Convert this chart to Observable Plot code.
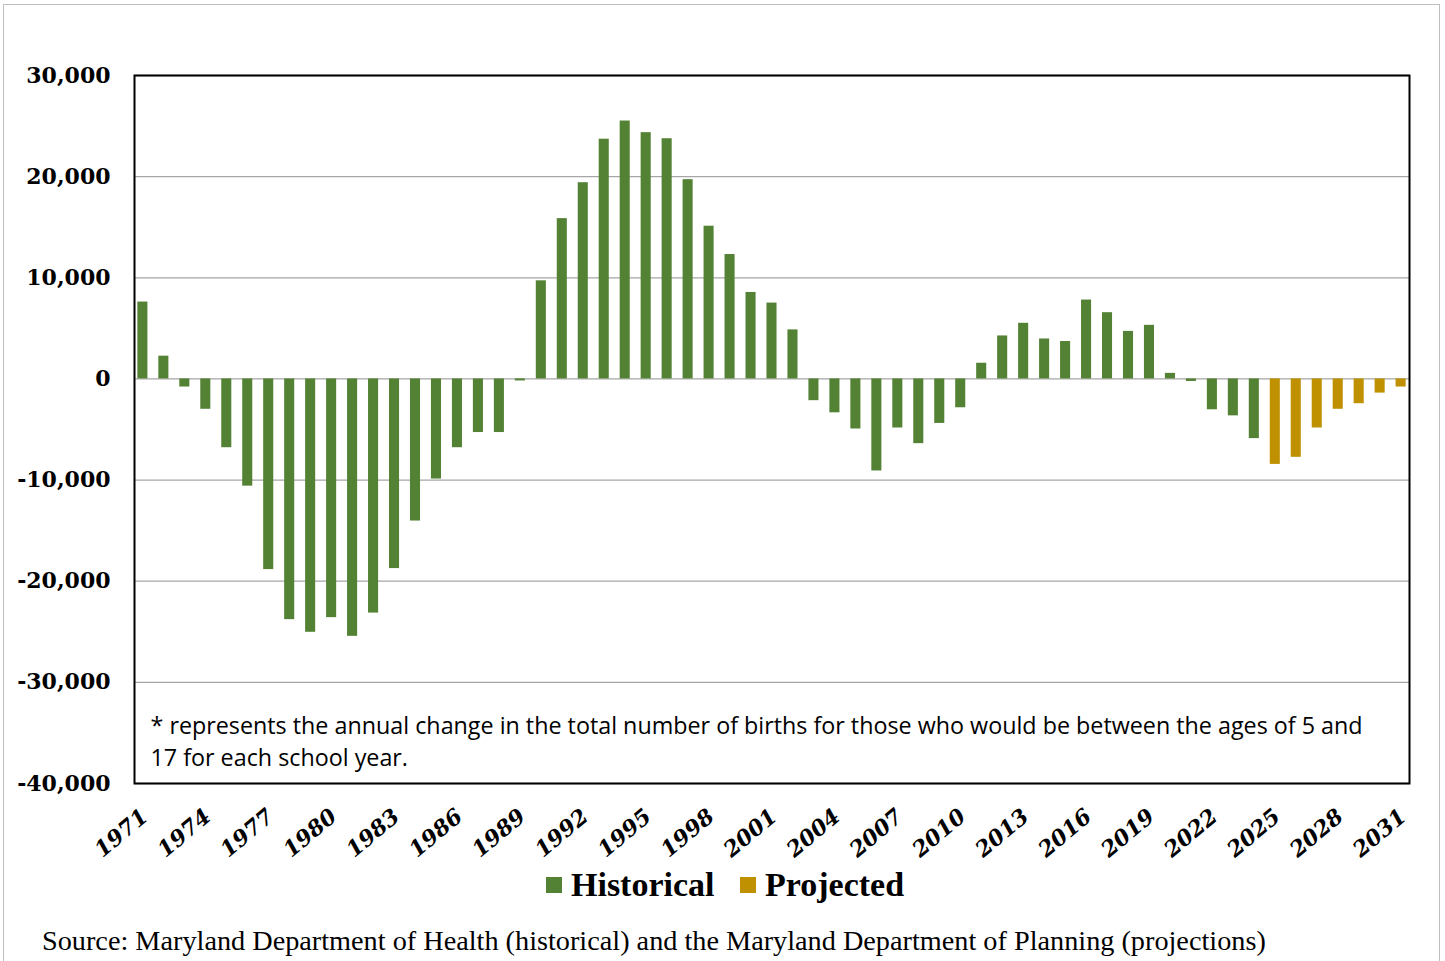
<!DOCTYPE html>
<html><head><meta charset="utf-8">
<script src="https://cdn.jsdelivr.net/npm/d3@7"></script>
<script src="https://cdn.jsdelivr.net/npm/@observablehq/plot@0.6"></script>
<style>
body{margin:0;background:#fff;}
#wrap{position:relative;width:1445px;height:961px;overflow:hidden;background:#fff;}
#border{position:absolute;left:3px;top:4px;width:1437px;height:1000px;border:1.5px solid #bfbfbf;box-sizing:border-box;}
#chart{position:absolute;left:0;top:0;}
.leg{position:absolute;top:868px;display:flex;align-items:center;font-family:"Liberation Serif",serif;font-weight:bold;font-size:34px;line-height:1;color:#000;}
.sw{display:inline-block;width:16px;height:16px;margin-right:9px;}
#source{position:absolute;left:42px;top:927px;font-family:"Liberation Serif",serif;font-size:28.25px;line-height:1;color:#000;white-space:nowrap;}
</style></head>
<body>
<div id="wrap">
  <div id="border"></div>
  <div id="chart"></div>
  <div class="leg" style="left:546px"><span class="sw" style="background:#548235"></span>Historical</div>
  <div class="leg" style="left:740px"><span class="sw" style="background:#BF9000"></span>Projected</div>
  <div id="source">Source: Maryland Department of Health (historical) and the Maryland Department of Planning (projections)</div>
</div>
<script>
const years = [1971,1972,1973,1974,1975,1976,1977,1978,1979,1980,1981,1982,1983,1984,1985,1986,1987,1988,1989,1990,
  1991,1992,1993,1994,1995,1996,1997,1998,1999,2000,2001,2002,2003,2004,2005,2006,2007,2008,2009,2010,
  2011,2012,2013,2014,2015,2016,2017,2018,2019,2020,2021,2022,2023,2024,2025,2026,2027,2028,2029,2030,2031];
const changes = [7600,2250,-800,-3000,-6800,-10600,-18850,-23800,-25050,-23600,-25450,-23150,-18750,-14050,-9900,-6800,-5300,-5300,-200,9700,
  15850,19400,23700,25500,24350,23750,19700,15100,12300,8550,7500,4850,-2150,-3350,-4950,-9100,-4850,-6400,-4400,-2850,
  1550,4250,5500,3950,3700,7800,6550,4700,5300,550,-250,-3050,-3650,-5900,-8450,-7750,-4850,-3000,-2450,-1400,-800];
const firstProjectedYear = 2025;
const seriesNames = ["Historical","Projected"];
const seriesColors = ["#548235","#BF9000"];
const xTickLabels = [1971,1974,1977,1980,1983,1986,1989,1992,1995,1998,2001,2004,2007,2010,2013,2016,2019,2022,2025,2028,2031];
const yTickValues = [-40000,-30000,-20000,-10000,0,10000,20000,30000];
const note = "* represents the annual change in the total number of births for those who would be between the ages of 5 and\n17 for each school year.";

const data = years.map((y,i)=>({year:y, value:changes[i], series: y>=firstProjectedYear?seriesNames[1]:seriesNames[0]}));

const chart = Plot.plot({
  width:1445, height:870,
  marginLeft:134, marginRight:36, marginTop:75, marginBottom:87,
  style:{background:"transparent", overflow:"visible"},
  x:{type:"band", domain:years, paddingInner:0.52, paddingOuter:0.16},
  y:{domain:[-40000,30000]},
  color:{domain:seriesNames, range:seriesColors},
  marks:[
    Plot.gridY(yTickValues,{stroke:"#a6a6a6", strokeOpacity:1, strokeWidth:1.3}),
    Plot.barY(data,{x:"year", y:"value", fill:"series"}),
    Plot.axisY({ticks:yTickValues, tickSize:0, tickPadding:24, label:null,
      tickFormat:d=>d.toLocaleString("en-US"),
      fontFamily:"DejaVu Serif", fontWeight:"bold", fontSize:22, fill:"#000"}),
    Plot.axisX({ticks:xTickLabels, tickSize:0, tickRotate:-40, label:null, tickPadding:8,
      tickFormat:d=>String(d), dx:2, dy:22,
      fontFamily:"DejaVu Serif", fontWeight:"bold", fontStyle:"italic", fontSize:22, fill:"#000"}),
    Plot.text([note],{text:d=>d, frameAnchor:"bottom-left", dx:16, dy:-18, lineAnchor:"bottom",
      lineHeight:1.37, fontSize:23.3, fontFamily:"Open Sans", fill:"#000", textAnchor:"start"}),
    Plot.frame({stroke:"#000", strokeWidth:2})
  ]
});
document.getElementById("chart").appendChild(chart);
</script>
</body></html>
